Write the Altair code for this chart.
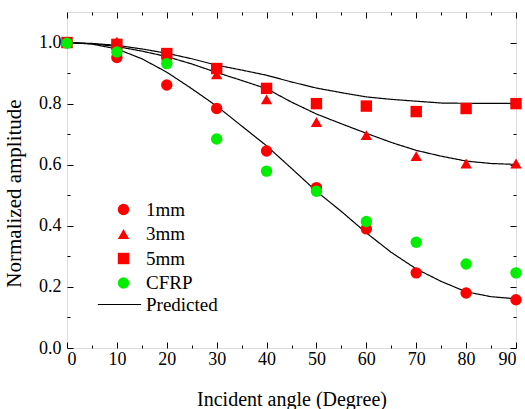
import altair as alt
import pandas as pd

# ---- data ----
angles = [0, 10, 20, 30, 40, 50, 60, 70, 80, 90]
amp_1mm = [1.0, 0.951, 0.861, 0.784, 0.645, 0.525, 0.390, 0.246, 0.180, 0.158]
amp_3mm = [1.0, 1.003, 0.957, 0.896, 0.814, 0.740, 0.697, 0.628, 0.604, 0.604]
amp_5mm = [1.0, 0.994, 0.964, 0.915, 0.850, 0.800, 0.792, 0.774, 0.784, 0.800]
amp_cfrp = [0.998, 0.969, 0.931, 0.684, 0.579, 0.513, 0.414, 0.346, 0.275, 0.246]

pred_angles = [0, 5, 10, 15, 20, 25, 30, 35, 40, 45, 50, 55, 60, 65, 70, 75, 80, 85, 90]
pred_1mm = [1.0, 0.995, 0.979, 0.947, 0.903, 0.849, 0.792, 0.727, 0.662, 0.588, 0.513,
            0.447, 0.377, 0.313, 0.259, 0.218, 0.184, 0.168, 0.161]
pred_3mm = [1.0, 0.996, 0.987, 0.972, 0.954, 0.930, 0.902, 0.876, 0.849, 0.805, 0.766,
            0.734, 0.703, 0.673, 0.647, 0.628, 0.612, 0.604, 0.601]
pred_5mm = [1.0, 0.997, 0.991, 0.979, 0.965, 0.947, 0.926, 0.910, 0.893, 0.871, 0.851,
            0.836, 0.822, 0.814, 0.808, 0.802, 0.801, 0.801, 0.801]

series_names = ["1mm", "3mm", "5mm", "CFRP"]
series_colors = ["#ff0000", "#ff0000", "#ff0000", "#00ee00"]
series_shapes = ["circle", "triangle-up", "square", "circle"]
series_sizes = [130, 130, 100, 85]

x_major = [0, 10, 20, 30, 40, 50, 60, 70, 80, 90]
x_minor = [5, 15, 25, 35, 45, 55, 65, 75, 85]
y_major = [0.0, 0.2, 0.4, 0.6, 0.8, 1.0]
y_minor = [0.1, 0.3, 0.5, 0.7, 0.9]

# ---- tables ----
rows = []
for name, vals in zip(series_names, [amp_1mm, amp_3mm, amp_5mm, amp_cfrp]):
    for a, v in zip(angles, vals):
        rows.append({"angle": a, "amp": v, "series": name})
pts = pd.DataFrame(rows)

prow = []
for name, vals in zip(["p1", "p3", "p5"], [pred_1mm, pred_3mm, pred_5mm]):
    for a, v in zip(pred_angles, vals):
        prow.append({"angle": a, "amp": v, "curve": name, "leg": "Predicted"})
pred = pd.DataFrame(prow)

FONT = "Liberation Serif"
xscale = alt.Scale(domain=[0, 90], nice=False, zero=False)
yscale = alt.Scale(domain=[0, 1.1], nice=False, zero=False)


def tick_axis(orient, values, size):
    return alt.Axis(orient=orient, values=values, labels=False, domain=False,
                    ticks=True, tickSize=size, offset=-size, tickColor="black",
                    tickWidth=1, grid=False, title=None)


def tick_layer(xo, yo, xv, yv, size):
    return alt.Chart(pts).mark_point(opacity=0).encode(
        x=alt.X("angle:Q", scale=xscale, axis=tick_axis(xo, xv, size)),
        y=alt.Y("amp:Q", scale=yscale, axis=tick_axis(yo, yv, size)),
    )


t1 = tick_layer("bottom", "left", x_major, y_major, 6)
t2 = tick_layer("bottom", "left", x_minor, y_minor, 3)
t3 = tick_layer("top", "right", x_major, y_major, 6)
t4 = tick_layer("top", "right", x_minor, y_minor, 3)

lines = alt.Chart(pred).mark_line(color="black", strokeWidth=1.2).encode(
    x=alt.X("angle:Q", scale=xscale, axis=None),
    y=alt.Y("amp:Q", scale=yscale, axis=None),
    detail="curve:N",
    strokeDash=alt.StrokeDash(
        "leg:N",
        scale=alt.Scale(domain=["Predicted"], range=[[1, 0]]),
        legend=alt.Legend(title=None, orient="none", legendX=30, legendY=270,
                          symbolType="stroke", symbolSize=1875,
                          symbolStrokeColor="black", symbolStrokeWidth=1.2,
                          labelFont=FONT, labelFontSize=19, labelColor="black",
                          labelOffset=4, padding=0),
    ),
)

legend_pts = alt.Legend(title=None, orient="none", legendX=47, legendY=188,
                        labelFont=FONT, labelFontSize=19, labelColor="black",
                        labelOffset=13, rowPadding=4.5, padding=0,
                        symbolStrokeWidth=0)

points = alt.Chart(pts).mark_point(filled=True, opacity=1).encode(
    x=alt.X("angle:Q", scale=xscale,
            axis=alt.Axis(orient="bottom", values=x_major, ticks=False, tickSize=0,
                          domain=False, grid=False, labelFont=FONT, labelFontSize=18,
                          labelColor="black", labelPadding=2,
                          title="Incident angle (Degree)", titleFont=FONT,
                          titleFontSize=20, titleFontWeight="normal",
                          titleColor="black", titleBaseline="alphabetic",
                          titleY=57)),
    y=alt.Y("amp:Q", scale=yscale,
            axis=alt.Axis(orient="left", values=y_major, format=".1f", ticks=False,
                          tickSize=0, domain=False, grid=False, labelFont=FONT,
                          labelFontSize=18, labelColor="black", labelPadding=6,
                          title="Normalized amplitude", titleFont=FONT,
                          titleFontSize=21, titleFontWeight="normal",
                          titleColor="black", titleY=181, titleX=-43)),
    color=alt.Color("series:N", scale=alt.Scale(domain=series_names, range=series_colors),
                    legend=legend_pts),
    shape=alt.Shape("series:N", scale=alt.Scale(domain=series_names, range=series_shapes),
                    legend=legend_pts),
    size=alt.Size("series:N", scale=alt.Scale(domain=series_names, range=series_sizes),
                  legend=legend_pts),
    order=alt.Order("ord:Q"),
).transform_calculate(
    ord="indexof(['1mm','3mm','5mm','CFRP'], datum.series)"
)

chart = alt.layer(t1, t2, t3, t4, lines, points).resolve_axis(
    x="independent", y="independent"
).properties(
    width=449, height=336,
    padding={"left": 67, "top": 12, "right": 9, "bottom": 61},
    autosize=alt.AutoSizeParams(type="none"),
).configure_view(
    stroke="black", strokeWidth=1.5
).configure(background="white")

chart.save("out.html", embed_options={"renderer": "svg", "actions": False})
